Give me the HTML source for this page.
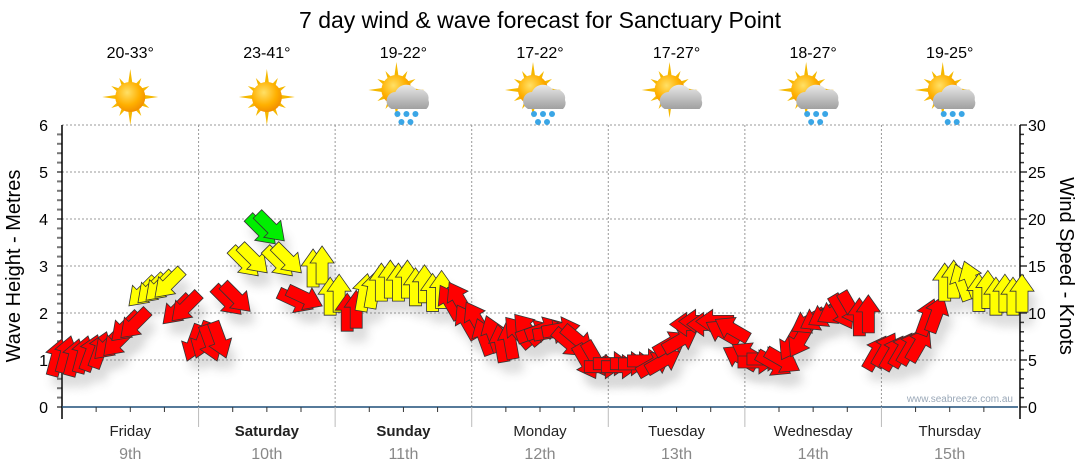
<!DOCTYPE html>
<html><head><meta charset="utf-8"><style>
html,body{margin:0;padding:0;background:#fff;width:1080px;height:475px;overflow:hidden}
svg{display:block;font-family:"Liberation Sans",sans-serif}
</style></head><body>
<svg id="chart" width="1080" height="475" viewBox="0 0 1080 475">
<defs>
<radialGradient id="sunG" cx="0.4" cy="0.35" r="0.7"><stop offset="0" stop-color="#ffe066"/><stop offset="0.6" stop-color="#ffb000"/><stop offset="1" stop-color="#f08a00"/></radialGradient>
<linearGradient id="cloudG" x1="0" y1="0" x2="0" y2="1"><stop offset="0" stop-color="#e8e8e8"/><stop offset="1" stop-color="#a0a0a0"/></linearGradient>
<filter id="sh" x="-50%" y="-50%" width="200%" height="200%"><feGaussianBlur stdDeviation="5"/></filter>
</defs>
<g id="grid"></g>
<g id="axes"></g>
<g id="icons"></g>
<g id="shadows" opacity="0.22"></g>
<g id="arrows"></g>
<text x="540" y="28" text-anchor="middle" font-size="23" fill="#000">7 day wind &amp; wave forecast for Sanctuary Point</text>
<text transform="translate(20,266) rotate(-90)" text-anchor="middle" font-size="20" fill="#000">Wave Height - Metres</text>
<text transform="translate(1060,266) rotate(90)" text-anchor="middle" font-size="20" fill="#000">Wind Speed - Knots</text>
<text x="1013" y="402" text-anchor="end" font-size="10" fill="#9aa8b8">www.seabreeze.com.au</text>
</svg>
<script>
const days = ["Friday","Saturday","Sunday","Monday","Tuesday","Wednesday","Thursday"];
const dates = ["9th","10th","11th","12th","13th","14th","15th"];
const boldDays = [false,true,true,false,false,false,false];
const temps = ["20-33°","23-41°","19-22°","17-22°","17-27°","18-27°","19-25°"];
const icons = ["sun","sun","rain","rain","cloud","rain","rain"];
const waveTicks = [0,1,2,3,4,5,6];
const windTicks = [0,5,10,15,20,25,30];
// wind every 3 hours from Friday 00:00
const windSpeed = [5.5,5.5,6,6.8,8.7,12.4,13,10.5,7,7,11.5,15.6,19,15.6,11.5,15,12,10.3,12.4,13.5,13.5,13,12.4,11.4,9.3,7.7,7,8.2,8.2,8.2,7,5,4.5,4.5,4.8,4.8,7,9,9,8.2,5.5,5,4.8,7,9.3,10,10.3,9.8,6,6,6.6,9.8,13.5,13.5,12.4,12,12];
const windDir = [15,15,20,225,225,225,225,225,200,160,135,135,135,135,115,0,0,0,10,0,0,0,0,-30,-30,-20,-10,-40,70,80,130,150,90,90,90,60,60,270,270,300,300,90,120,210,240,240,150,0,30,30,30,20,0,-20,0,0,0];
const windColor = ["r","r","r","r","r","y","y","r","r","r","r","y","g","y","r","y","y","r","y","y","y","y","y","r","r","r","r","r","r","r","r","r","r","r","r","r","r","r","r","r","r","r","r","r","r","r","r","r","r","r","r","r","y","y","y","y","y"];

const NS="http://www.w3.org/2000/svg";
const X0=62, X1=1018, Y0=407, Y1=125, DAYW=(X1-X0)/7;
const xT = h => X0 + h/24*DAYW;
const yWave = m => Y0 - m/6*(Y0-Y1);
const yWind = k => Y0 - k/30*(Y0-Y1);
const colors={r:"#ff0000",y:"#ffff00",g:"#00ee00"};
function el(tag,attrs,parent,txt){const e=document.createElementNS(NS,tag);for(const k in attrs)e.setAttribute(k,attrs[k]);if(txt!==undefined)e.textContent=txt;parent.appendChild(e);return e;}
const grid=document.getElementById('grid'),axes=document.getElementById('axes'),iconsG=document.getElementById('icons'),arrowsG=document.getElementById('arrows'),shG=document.getElementById('shadows');

waveTicks.forEach(v=>{
  const y=yWave(v);
  if(v>0){const g=el('line',{x1:X0,x2:X1,y1:y,y2:y,stroke:'#999','stroke-dasharray':'2,2','stroke-width':1},grid);
  
  }
  const t=el('text',{x:48,y:y+6,'text-anchor':'end','font-size':16,fill:'#000'},axes,v);
  
  
});
for(let m=0;m<=6;m+=0.2){const y=yWave(m);el('line',{x1:X0-5,x2:X0,y1:y,y2:y,stroke:'#777','stroke-width':2},axes);}
windTicks.forEach(v=>{
  const y=yWind(v);
  const t=el('text',{x:1028,y:y+6,'font-size':16,fill:'#000'},axes,v);
  
  
});
for(let k=0;k<=30;k+=1){const y=yWind(k);el('line',{x1:X1+2,x2:X1+(k%5===0?9:6),y1:y,y2:y,stroke:'#333','stroke-width':1.5},axes);}
el('line',{x1:X0,x2:X0,y1:Y1,y2:Y0+12,stroke:'#000','stroke-width':1.5},axes);
el('line',{x1:X1+2,x2:X1+2,y1:Y1,y2:Y0+12,stroke:'#000','stroke-width':1.5},axes);
el('line',{x1:X0,x2:X1,y1:Y0,y2:Y0,stroke:'#1f4e79','stroke-width':1.5},axes);
for(let h=6;h<168;h+=6){const x=xT(h);el('line',{x1:x,x2:x,y1:Y0,y2:Y0+(h%24===0?20:5),stroke:h%24===0?'#bbb':'#333','stroke-width':1},axes);}

days.forEach((d,i)=>{
  const cx=xT(i*24+12);
  if(i>0){const g=el('line',{x1:xT(i*24),x2:xT(i*24),y1:Y1,y2:Y0,stroke:'#999','stroke-dasharray':'2,2'},grid);
  
  }
  const t=el('text',{x:cx,y:436,'text-anchor':'middle','font-size':15,'font-weight':boldDays[i]?'bold':'normal',fill:'#222'},axes,d);
  
  
  const t2=el('text',{x:cx,y:459,'text-anchor':'middle','font-size':16,fill:'#888'},axes,dates[i]);
  
  
  const tt=el('text',{x:cx,y:58,'text-anchor':'middle','font-size':16,fill:'#000'},iconsG,temps[i]);
  
  
  const g=el('g',{transform:`translate(${cx},97)`},iconsG);
  
  
  const sx=icons[i]==='sun'?0:-7, sy=icons[i]==='sun'?0:-7;
  for(let a=0;a<360;a+=30){const r=a*Math.PI/180,len=a%90===0?28:22;
    el('polygon',{points:`${sx+Math.cos(r)*len},${sy+Math.sin(r)*len} ${sx+Math.cos(r+0.2)*12},${sy+Math.sin(r+0.2)*12} ${sx+Math.cos(r-0.2)*12},${sy+Math.sin(r-0.2)*12}`,fill:'#f5b800'},g);}
  el('circle',{cx:sx,cy:sy,r:15,fill:'url(#sunG)'},g);
  if(icons[i]!=='sun'){
    el('path',{d:'M-12,12 a9,9 0 0,1 4,-17 a12,12 0 0,1 21,-2 a9,9 0 0,1 12,10 a8,8 0 0,1 -2,9 z',fill:'url(#cloudG)'},g);
    if(icons[i]==='rain'){[[-6,17],[3,17],[12,17],[-2,25],[7,25]].forEach(p=>el('circle',{cx:p[0],cy:p[1],r:3,fill:'#3aa6e6'},g));}
  }
});

const arrowPts="0,-19 12,-2 6,-2 6,19 -6,19 -6,-2 -12,-2";
const offsets=[-5,4];
windSpeed.forEach((k,i)=>{
  const x=xT(i*3), y=yWind(k);
  offsets.forEach(o=>{
    const s=el('polygon',{points:arrowPts,transform:`translate(${x+o+5},${y+12}) rotate(${windDir[i]})`,fill:'#555',filter:'url(#sh)'},shG);
    
    
  });
  offsets.forEach(o=>{
    const a=el('polygon',{points:arrowPts,transform:`translate(${x+o},${y+(o<0?2:-1)}) rotate(${windDir[i]})`,fill:colors[windColor[i]],stroke:'#333','stroke-width':0.8},arrowsG);
    
    
  });
});
</script>
</body></html>
